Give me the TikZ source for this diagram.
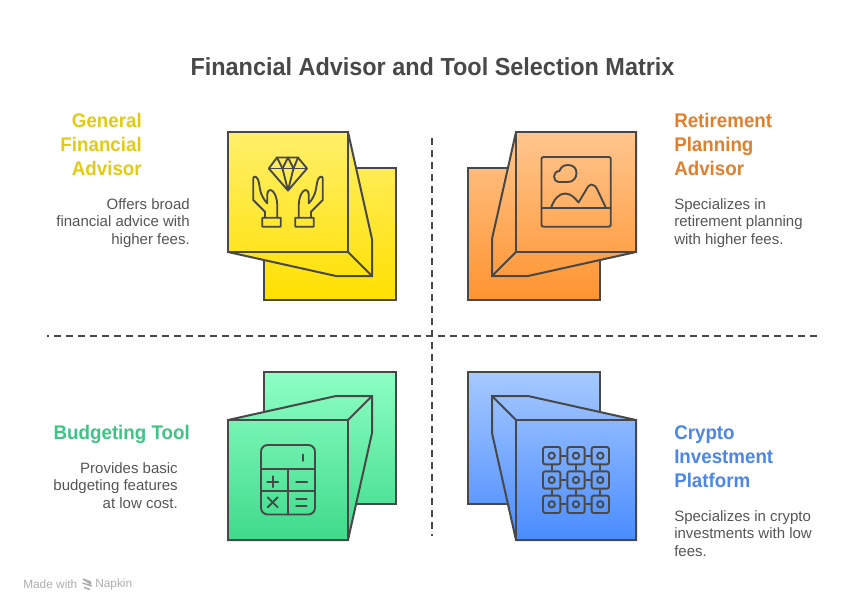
\documentclass[tikz,border=0pt]{standalone}
\usepackage{fontspec}
\setmainfont{Liberation Sans}
\newfontfamily\tightbold[FakeStretch=0.95]{Liberation Sans Bold}
\definecolor{ink}{HTML}{484848}
\definecolor{bodyink}{HTML}{555555}
\definecolor{yA}{HTML}{FFF06A}\definecolor{yB}{HTML}{FFE000}
\definecolor{oA}{HTML}{FFC68E}\definecolor{oB}{HTML}{FF9430}
\definecolor{gA}{HTML}{8DFFC4}\definecolor{gB}{HTML}{3FDA8B}
\definecolor{bA}{HTML}{A6C9FF}\definecolor{bB}{HTML}{4A8CFF}
\definecolor{yT}{HTML}{E3CB12}\definecolor{oT}{HTML}{E0802C}
\definecolor{gT}{HTML}{3CC585}\definecolor{bT}{HTML}{4C87E8}
\tikzset{
  outline/.style={draw=ink,line width=1.5pt,line join=miter},
  iconline/.style={draw=ink,line width=1.4pt,line join=round,line cap=round},
  axis/.style={draw=ink,line width=1.5pt,dash pattern=on 5.25pt off 3.75pt},
  head/.style={inner sep=0pt,font=\fontsize{14.8}{18}\selectfont\tightbold,align=#1},
  head/.default=left,
  desc/.style={inner sep=0pt,text=bodyink,font=\fontsize{11.25}{13.1}\selectfont,align=#1},
  desc/.default=left,
  gridcell/.style={draw=ink,line width=1.4pt,rectangle,rounded corners=1.6pt,minimum size=13pt,inner sep=0pt},
}
% #1 path, #2 top colour, #3 bottom colour, #4 top y, #5 bottom y
\newcommand{\gradshape}[5]{%
  \begin{scope}\clip #1;\shade[top color=#2,bottom color=#3] (0,#4) rectangle (864,#5);\end{scope}
  \draw[outline] #1;}
\begin{document}
\begin{tikzpicture}[x=0.75pt,y=-0.75pt]
\useasboundingbox (0,0) rectangle (864,612);

% axes
\coordinate (hL) at (47,336);\coordinate (hR) at (817,336);
\coordinate (vT) at (432,138);\coordinate (vB) at (432,535.5);
\draw[axis,dash phase=3.75pt] (hL) -- (hR);
\draw[axis] (vT) -- (vB);

% yellow
\gradshape{(264,168) rectangle (396,300)}{yA}{yB}{132}{300}
\gradshape{(228,132) -- (348,132) -- (372,239) -- (372,276) -- (336,276) -- (228,252) -- cycle}{yA}{yB}{132}{300}
\gradshape{(228,132) rectangle (348,252)}{yA}{yB}{132}{300}
\draw[outline] (348,252) -- (372,276);

% orange
\gradshape{(468,168) rectangle (600,300)}{oA}{oB}{132}{300}
\gradshape{(636,132) -- (516,132) -- (492,239) -- (492,276) -- (528,276) -- (636,252) -- cycle}{oA}{oB}{132}{300}
\gradshape{(516,132) rectangle (636,252)}{oA}{oB}{132}{300}
\draw[outline] (516,252) -- (492,276);

% green
\gradshape{(264,372) rectangle (396,504)}{gA}{gB}{372}{540}
\gradshape{(228,420) -- (336,396) -- (372,396) -- (372,433) -- (348,540) -- (228,540) -- cycle}{gA}{gB}{372}{540}
\gradshape{(228,420) rectangle (348,540)}{gA}{gB}{372}{540}
\draw[outline] (348,420) -- (372,396);

% blue
\gradshape{(468,372) rectangle (600,504)}{bA}{bB}{372}{540}
\gradshape{(636,420) -- (528,396) -- (492,396) -- (492,433) -- (516,540) -- (636,540) -- cycle}{bA}{bB}{372}{540}
\gradshape{(516,420) rectangle (636,540)}{bA}{bB}{372}{540}
\draw[outline] (516,420) -- (492,396);

% icon: diamond and hands
\draw[iconline] (277,157.5) -- (298,157.5) -- (307,168.5) -- (288,190.5) -- (268.8,168.5) -- cycle;
\draw[iconline] (268.8,168.5) -- (307,168.5);
\draw[iconline] (277,157.5) -- (282.5,168.5) -- (288,190.5) -- (293.5,168.5) -- (298,157.5);
\draw[iconline] (282.5,168.5) -- (288,157.5) -- (293.5,168.5);
\draw[iconline,rounded corners=0.3pt] (262.3,217.7) rectangle (280.7,226.7);
\draw[iconline,rounded corners=0.3pt] (295.3,217.7) rectangle (313.7,226.7);
\draw[iconline] (265,217.7) -- (265,211.7) -- (253.3,200) -- (253.3,178) .. controls (253.3,176.5) and (255,176.2) .. (256,177) .. controls (259,179) and (259,184) .. (260,189) .. controls (261,195) and (264,200) .. (267.3,203.3) -- (267.3,194) .. controls (267.3,191) and (269,190) .. (270.5,190) .. controls (274,190) and (277.3,198) .. (277.3,205) -- (277.3,217.7);
\draw[iconline] (311,217.7) -- (311,211.7) -- (322.7,200) -- (322.7,178) .. controls (322.7,176.5) and (321,176.2) .. (320,177) .. controls (317,179) and (317,184) .. (316,189) .. controls (315,195) and (312,200) .. (308.7,203.3) -- (308.7,194) .. controls (308.7,191) and (307,190) .. (305.5,190) .. controls (302,190) and (298.7,198) .. (298.7,205) -- (298.7,217.7);

% icon: picture
\draw[iconline,rounded corners=1.5pt] (541.5,157) rectangle (610.8,226.7);
\draw[iconline] (541.5,208.3) -- (610.8,208.3);
\draw[iconline] (558.5,182) -- (568,182) .. controls (573,182) and (576.5,178) .. (576.5,173) .. controls (576.5,168) and (573,165) .. (568,165) .. controls (563.5,165) and (561,167) .. (559.5,171) .. controls (556,171) and (554,174) .. (554,176.5) .. controls (554,179.5) and (556,182) .. (558.5,182) -- cycle;
\draw[iconline] (551,208) .. controls (554,199) and (559,193.5) .. (565,193.5) .. controls (571,193.5) and (575,198) .. (578.5,202.5) -- (586,190) .. controls (588,186) and (590,184.5) .. (591.5,184.5) .. controls (594,184.5) and (596,186.5) .. (597.5,190) -- (606,208);

% icon: calculator
\draw[iconline,rounded corners=5pt] (261,445) rectangle (315,514.5);
\draw[iconline] (261,469.3) -- (315,469.3);
\draw[iconline] (261,490.7) -- (315,490.7);
\draw[iconline] (288,469.3) -- (288,514.5);
\draw[iconline] (302.7,454.5) -- (302.7,460.8);
\draw[iconline] (267.2,481.7) -- (278.2,481.7);
\draw[iconline] (272.7,476.2) -- (272.7,487.2);
\draw[iconline] (296.2,481.7) -- (307.2,481.7);
\draw[iconline] (267.7,497.3) -- (277.7,507.3);
\draw[iconline] (267.7,507.3) -- (277.7,497.3);
\draw[iconline] (296.2,499) -- (306.7,499);
\draw[iconline] (296.2,505.7) -- (306.7,505.7);

% icon: grid
\foreach \c/\x in {1/551.7,2/576,3/600.3}{
  \foreach \r/\y in {1/455.7,2/480,3/504.3}{
    \node[gridcell] (g\r\c) at (\x,\y) {};
    \draw[iconline] (\x,\y) circle (2.4pt);
  }}
\foreach \r in {1,2,3}{
  \draw[iconline,line cap=butt] (g\r1) -- (g\r2);
  \draw[iconline,line cap=butt] (g\r2) -- (g\r3);
}
\foreach \c in {1,2,3}{
  \draw[iconline,line cap=butt] (g1\c) -- (g2\c);
  \draw[iconline,line cap=butt] (g2\c) -- (g3\c);
}

% texts
\node[text=ink,inner sep=0pt,font=\fontsize{18.5}{22}\selectfont\tightbold] (title) at (432.5,66.5) {Financial Advisor and Tool Selection Matrix};

\node[head=right,text=yT,anchor=north east] (h1) at (142,113) {General\\Financial\\Advisor};
\node[desc=right,anchor=north east] (d1) at (190,198) {Offers broad\\financial advice with\\higher fees.};

\node[head=left,text=oT,anchor=north west] (h2) at (674,113) {Retirement\\Planning\\Advisor};
\node[desc=left,anchor=north west] (d2) at (674,198) {Specializes in\\retirement planning\\with higher fees.};

\node[head=right,text=gT,anchor=north east] (h3) at (190,425) {Budgeting Tool};
\node[desc=right,anchor=north east] (d3) at (178,462) {Provides basic\\budgeting features\\at low cost.};

\node[head=left,text=bT,anchor=north west] (h4) at (674,425) {Crypto\\Investment\\Platform};
\node[desc=left,anchor=north west] (d4) at (674,510) {Specializes in crypto\\investments with low\\fees.};

% footer
\node[text=black!32,inner sep=0pt,anchor=west,font=\fontsize{8.9}{10}\selectfont] (made) at (23,584.5) {Made with};
\node[text=black!32,inner sep=0pt,anchor=west,font=\fontsize{8.9}{10}\selectfont] (napkin) at (95,584.5) {Napkin};
\draw[black!32,line width=1.1pt] (83,579) -- (91,582) (82.5,583) -- (92,586) (84,587.5) -- (90,589.5) (83,579) -- (91,584);
\end{tikzpicture}
\end{document}
